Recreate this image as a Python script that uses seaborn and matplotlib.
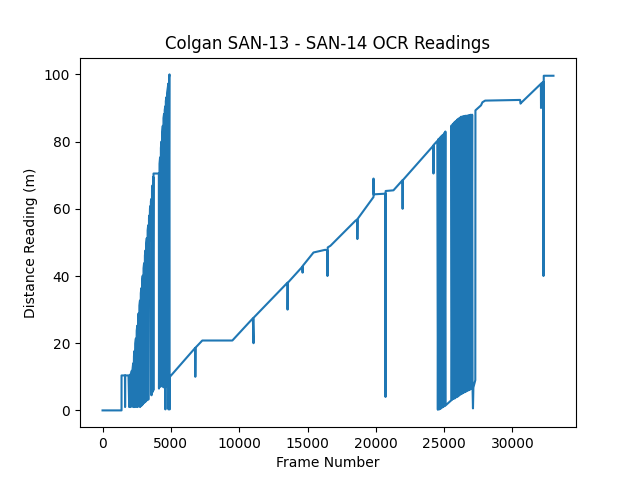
import pandas as pd
import matplotlib
matplotlib.use('Agg')
import matplotlib.pyplot as plt
import seaborn as sns

# OCR readings

# idle at start, first jump to 10
start_frames = [0, 1390, 1390, 1640, 1650, 1660, 1900]
start_readings = [0, 0, 10.4, 10.4, 1.0, 10.4, 10.4]

# first noisy climb (readings flicker between the true value and ~1)
climb1_frames = [1950, 2000, 2040, 2050, 2100, 2140, 2150,
                 2200, 2240, 2250, 2300, 2340, 2350, 2400, 2440, 2450,
                 2500, 2540, 2550, 2600, 2640, 2650, 2700, 2740, 2750,
                 2800, 2840, 2850, 2900, 2940, 2950, 3000, 3040, 3050,
                 3100, 3140, 3150, 3200, 3240, 3250, 3300, 3340, 3350,
                 3400, 3420, 3430, 3470, 3490, 3500, 3540, 3560, 3580,
                 3620, 3660, 3670, 3700, 3710, 3720, 3730, 4120, 4130]
climb1_readings = [1.0, 10.6, 10.7, 1.0, 11.0, 11.8, 1.2,
                   12.5, 14.0, 1.0, 16.2, 17.7, 1.0, 19.9, 21.4, 1.1,
                   23.7, 25.2, 1.0, 27.4, 28.9, 1.2, 31.2, 32.7, 1.0,
                   34.9, 36.4, 1.4, 38.6, 40.1, 1.8, 42.3, 43.8, 2.2,
                   46.1, 47.6, 2.6, 49.8, 51.3, 3.0, 53.6, 55.1, 3.2,
                   57.3, 58.0, 50.5, 60.0, 60.8, 50.5, 62.2, 62.9, 4.5,
                   65.5, 67.0, 5.5, 68.8, 69.5, 6.0, 70.5, 70.5, 6.5]

# second noisy climb up to 100
climb2_frames = [4170, 4210, 4220, 4270, 4310, 4320, 4370, 4410, 4420,
                 4460, 4500, 4510, 4550, 4590, 4600, 4630, 4670, 4680,
                 4720, 4760, 4800, 4820, 4830, 4870, 4900, 4910]
climb2_readings = [73.4, 75.3, 7.0, 78.1, 80.0, 7.2, 82.8, 84.7, 7.0,
                   87.0, 88.2, 6.8, 89.4, 90.5, 0.3, 92.0, 93.2, 7.2,
                   94.4, 95.6, 96.8, 97.3, 0.3, 99.1, 100.0, 0.3]

# long steady stretch with occasional misreads
steady_frames = [4930, 6780, 6790, 6810, 7300, 9500, 11000, 11050, 11060,
                 13530, 13540, 13560, 14630, 14640, 14650, 15440, 16300,
                 16450, 16460, 16480, 16680, 18520, 18640, 18650,
                 18670, 19830, 19830, 19840, 20700, 20710, 20720, 21290,
                 21950, 21960, 21970, 24210, 24220, 24230, 24500]
steady_readings = [10.0, 18.6, 10.0, 18.7, 20.8, 20.8, 27.4, 20.0, 27.6,
                   38.0, 30.0, 38.0, 42.8, 41.0, 43.0, 47.0, 47.8,
                   47.6, 40.0, 48.5, 49.0, 56.5, 56.8, 51.0,
                   57.0, 63.5, 69.0, 64.3, 64.5, 4.0, 65.3, 65.5,
                   68.5, 60.0, 68.5, 78.8, 70.5, 79.0, 80.2]

# noisy stretch near frame 25000-27000
noisy_frames = [24540, 24590, 24640, 24690, 24740, 24790, 24840, 24890, 24940,
                24990, 25040, 25090, 25110, 25300, 25520,
                25540, 25590, 25640, 25690, 25740, 25790, 25840, 25890, 25940,
                25990, 26040, 26090, 26140, 26190, 26240, 26280, 26320,
                26350, 26400, 26450, 26500, 26550, 26600, 26650, 26700, 26750,
                26800, 26850, 26900, 26950, 27000, 27050, 27080, 27110, 27140,
                27280]
noisy_readings = [0.2, 80.8, 0.3, 81.2, 0.5, 81.6, 0.8, 82.0, 1.0,
                  82.5, 1.3, 83.0, 1.5, 2.2, 3.0,
                  84.8, 3.2, 85.3, 3.4, 85.7, 3.6, 86.1, 3.9, 86.5,
                  4.1, 86.8, 4.4, 87.1, 4.7, 87.4, 5.0, 5.0,
                  87.5, 5.2, 87.6, 5.4, 87.7, 5.6, 87.7, 5.8, 87.8,
                  6.0, 87.9, 6.2, 88.0, 6.4, 88.0, 6.5, 0.6, 6.8,
                  9.0]

# final approach
end_frames = [27290, 27700, 27800, 28000, 30560, 30590, 30650, 32080, 32090,
              32110, 32260, 32270, 32290, 33000]
end_readings = [89.3, 90.8, 91.7, 92.2, 92.4, 91.3, 91.6, 97.2, 90.0,
                97.3, 97.8, 40.0, 99.6, 99.6]

frames = (start_frames + climb1_frames + climb2_frames + steady_frames
          + noisy_frames + end_frames)
readings = (start_readings + climb1_readings + climb2_readings
            + steady_readings + noisy_readings + end_readings)

df = pd.DataFrame({'frame': frames, 'reading': readings})

# keep every flicker of the noisy readings
plt.rcParams['path.simplify'] = False

fig, ax = plt.subplots(figsize=(6.4, 4.8), dpi=100)
sns.lineplot(data=df, x='frame', y='reading', estimator=None, sort=False,
             color='#1f77b4', linewidth=1.5, ax=ax)

ax.set_title('Colgan SAN-13 - SAN-14 OCR Readings')
ax.set_xlabel('Frame Number')
ax.set_ylabel('Distance Reading (m)')

plt.savefig('out.png')
